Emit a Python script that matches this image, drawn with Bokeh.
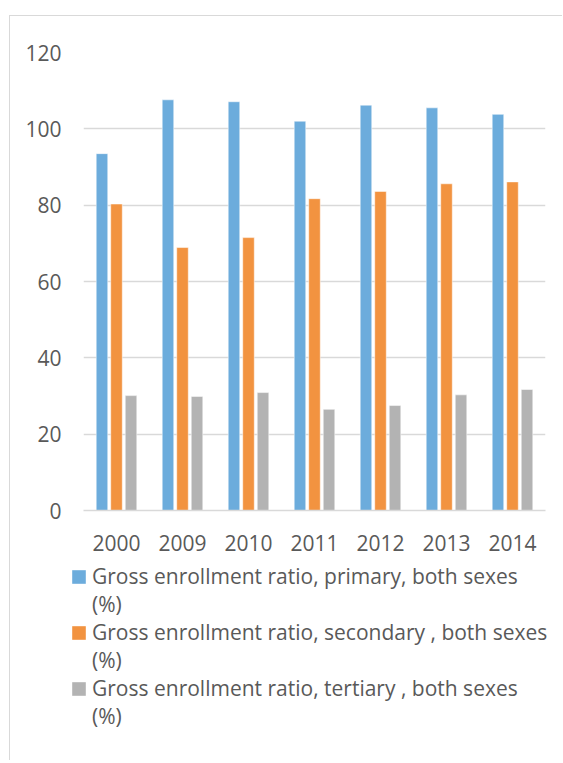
from bokeh.plotting import figure
from bokeh.models import ColumnDataSource, FactorRange, Legend, LegendItem, Range1d
from bokeh.transform import dodge
from bokeh.embed import file_html
from bokeh.resources import INLINE

years = ["2000", "2009", "2010", "2011", "2012", "2013", "2014"]
primary = [93.5, 107.6, 107.1, 102.0, 106.2, 105.5, 103.8]
secondary = [80.3, 68.9, 71.5, 81.7, 83.6, 85.6, 86.1]
tertiary = [30.1, 29.9, 30.9, 26.5, 27.5, 30.3, 31.7]
series_labels = [
    "Gross enrollment ratio, primary, both sexes",
    "Gross enrollment ratio, secondary , both sexes",
    "Gross enrollment ratio, tertiary , both sexes",
]
unit_label = "(%)"
colors = ["#6CACDC", "#F29340", "#B3B3B3"]
y_ticks = [0, 20, 40, 60, 80, 100, 120]

FONT = "Open Sans"
TXT = "#595959"
FS = "21px"

src = ColumnDataSource(dict(years=years, primary=primary, secondary=secondary, tertiary=tertiary))

p = figure(x_range=FactorRange(*years, range_padding=0), y_range=(0, 120),
           width=553, height=544, output_backend="svg", toolbar_location=None,
           min_border_left=73, min_border_right=18, min_border_top=36, min_border_bottom=50)
p.margin = (15, 0, 0, 9)
p.styles = {"border-top": "1px solid #D9D9D9", "border-left": "1px solid #D9D9D9"}

for field, off, col in zip(["primary", "secondary", "tertiary"], [-0.22, 0.0, 0.22], colors):
    p.vbar(x=dodge("years", off, range=p.x_range), top=field, width=0.175, source=src,
           fill_color=col, line_color="white", line_alpha=0.5, line_width=1)

p.outline_line_color = None
p.xgrid.grid_line_color = None
p.ygrid.grid_line_color = "#D9D9D9"
p.ygrid.grid_line_width = 1.3
p.yaxis.ticker = y_ticks
for ax in [p.xaxis, p.yaxis]:
    ax.major_tick_line_color = None
    ax.minor_tick_line_color = None
    ax.major_label_text_font = FONT
    ax.major_label_text_font_size = FS
    ax.major_label_text_color = TXT
p.yaxis.axis_line_color = None
p.xaxis.axis_line_color = "#D9D9D9"
p.xaxis.axis_line_width = 1.3
p.yaxis.major_label_standoff = 16
p.xaxis.major_label_standoff = 18

# legend panel (separate root figure so the legend is not clipped by the chart frame)
p2 = figure(width=553, height=201, x_range=Range1d(0, 1), y_range=Range1d(0, 1),
            output_backend="svg", toolbar_location=None, x_axis_type=None, y_axis_type=None,
            min_border_left=0, min_border_right=0, min_border_top=0, min_border_bottom=0)
p2.margin = (0, 0, 0, 9)
p2.styles = {"border-left": "1px solid #D9D9D9"}
p2.grid.visible = False
p2.outline_line_color = None
offscreen = ColumnDataSource(dict(x=[-10], top=[-10]))
items = []
for lab, col in zip(series_labels, colors):
    r = p2.vbar(x="x", top="top", width=0.1, source=offscreen, fill_color=col, line_color=None)
    blank = p2.vbar(x="x", top="top", width=0.1, source=offscreen, fill_alpha=0, line_alpha=0)
    items.append(LegendItem(label=lab, renderers=[r]))
    items.append(LegendItem(label=unit_label, renderers=[blank]))

legend = Legend(items=items, location=(60, 30), orientation="vertical")
legend.label_text_font = FONT
legend.label_text_font_size = FS
legend.label_text_color = TXT
legend.glyph_width = 17
legend.glyph_height = 17
legend.label_height = 27
legend.label_standoff = 5
legend.spacing = 0
legend.padding = 0
legend.margin = 0
legend.border_line_color = None
legend.background_fill_alpha = 0
p2.add_layout(legend, "center")

open("out.html", "w").write(file_html([p, p2], INLINE))
